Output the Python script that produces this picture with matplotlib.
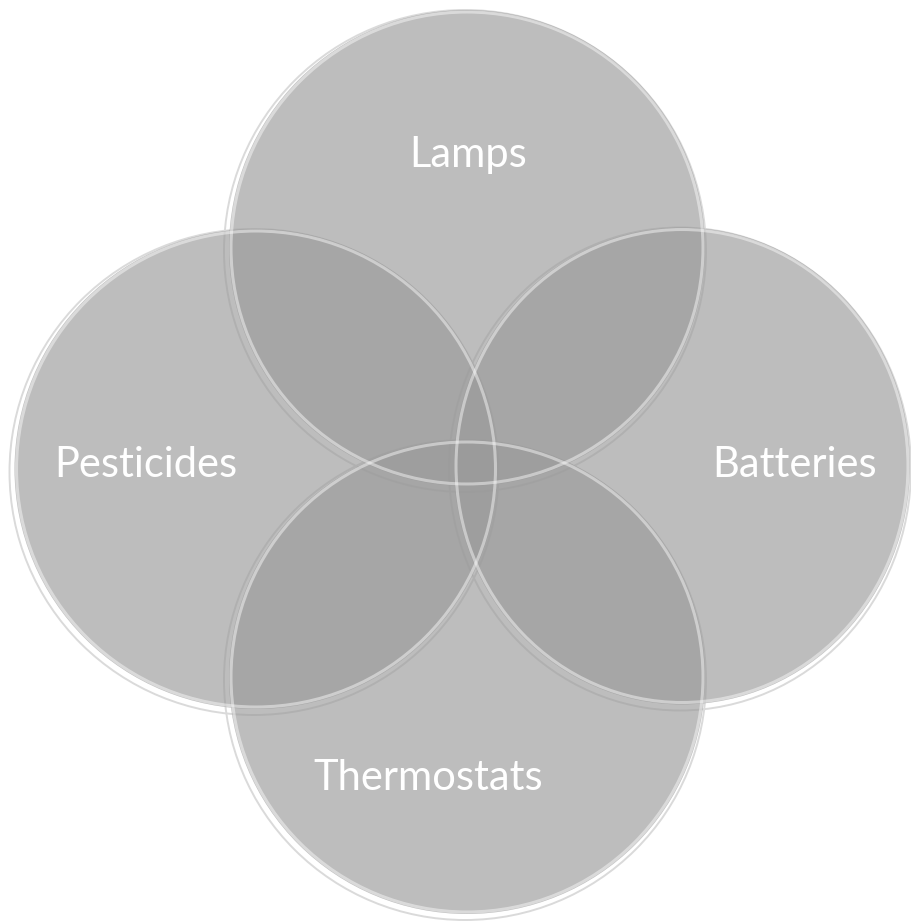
import matplotlib
matplotlib.use("Agg")
import matplotlib.pyplot as plt
from matplotlib.patches import Ellipse

# Venn sets (pixel-space layout of the reference)
labels = ["Lamps", "Batteries", "Thermostats", "Pesticides"]
center_x = [467, 682, 467, 256]
center_y = [248, 466, 677, 469]
width = [476, 456, 476, 483]
height = [476, 477, 474, 480]
label_x = [468, 795, 428, 146]
label_y = [155, 465, 778, 465]

fill_gray = "#9a9a9a"
fill_alpha = 0.65

fig = plt.figure(figsize=(9.11, 9.22), dpi=100)
ax = fig.add_axes([0, 0, 1, 1])
ax.set_xlim(0, 911)
ax.set_ylim(922, 0)
ax.set_aspect("auto")
ax.axis("off")

# outer faint rim (shadow/bevel)
for cx, cy, w, h in zip(center_x, center_y, width, height):
    ax.add_patch(Ellipse((cx - 2, cy + 3), w + 6, h + 6, facecolor="none",
                         edgecolor="#dadada", lw=1.4, zorder=1))

for cx, cy, w, h in zip(center_x, center_y, width, height):
    ax.add_patch(Ellipse((cx, cy), w, h, facecolor=fill_gray, alpha=fill_alpha,
                         edgecolor="none", zorder=2))

# light edges
for cx, cy, w, h in zip(center_x, center_y, width, height):
    ax.add_patch(Ellipse((cx, cy), w - 4, h - 4, facecolor="none",
                         edgecolor="white", alpha=0.45, lw=2.2, zorder=3))

for lab, x, y in zip(labels, label_x, label_y):
    ax.text(x, y, lab, color="white", fontsize=30, family="Lato",
            ha="center", va="center", zorder=5)

fig.savefig("out.png", dpi=100)
